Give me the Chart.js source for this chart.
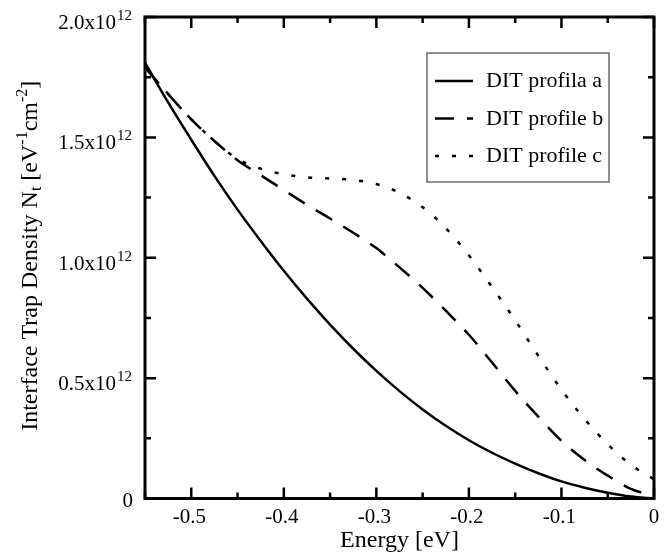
<!DOCTYPE html>
<html>
<head>
<meta charset="utf-8">
<script src="https://cdn.jsdelivr.net/npm/chart.js@4/dist/chart.umd.min.js"></script>
<style>
html,body{margin:0;padding:0;background:#fff;}
#wrap{width:672px;height:558px;position:relative;}
</style>
</head>
<body>
<div id="wrap"><canvas id="c" width="672" height="558"></canvas></div>
<script>
// Energy (eV)
const energy = [-0.55,-0.525,-0.5,-0.475,-0.45,-0.425,-0.4,-0.375,-0.35,-0.325,-0.3,-0.275,-0.25,-0.225,-0.2,-0.175,-0.15,-0.125,-0.1,-0.075,-0.05,-0.025,0];
// Interface trap density in units of 1e12 eV^-1 cm^-2
const profileA = [1.81,1.645,1.49,1.34,1.2,1.07,0.946,0.83,0.722,0.622,0.53,0.446,0.37,0.302,0.242,0.19,0.145,0.105,0.071,0.045,0.024,0.008,0.0];
const profileB = [1.79,1.68,1.575,1.485,1.405,1.343,1.281,1.22,1.163,1.104,1.04,0.96,0.875,0.78,0.68,0.565,0.447,0.34,0.24,0.16,0.095,0.04,0.01];
const profileC = [1.79,1.68,1.575,1.485,1.41,1.37,1.347,1.334,1.329,1.323,1.306,1.27,1.21,1.123,1.01,0.878,0.74,0.593,0.452,0.33,0.225,0.14,0.08];
const seriesLabels = ['DIT profila a','DIT profile b','DIT profile c'];
const xTickValues = [-0.5,-0.4,-0.3,-0.2,-0.1,0];
const xTickLabels = ['-0.5','-0.4','-0.3','-0.2','-0.1','0'];
const yTickValues = [0,0.5,1.0,1.5,2.0];
const yTickLabels = [['0',''],['0.5x10','12'],['1.0x10','12'],['1.5x10','12'],['2.0x10','12']];

const FONT = '"Liberation Serif","Times New Roman",serif';
const toXY = arr => energy.map((e,i)=>({x:e,y:arr[i]}));
const dashes = [[],[19,13],[4,13]];

const framePlugin = {
  id:'frame',
  afterDraw(chart){
    const ctx = chart.ctx, a = chart.chartArea;
    const xs = chart.scales.x, ys = chart.scales.y;
    ctx.save();
    ctx.strokeStyle = '#000';
    // ticks (inward, mirrored)
    ctx.lineWidth = 2.5;
    for(let k=0;k<=11;k++){
      const v = -0.55 + k*0.05;
      const px = xs.getPixelForValue(v);
      const L = (k%2===1)?11:6;
      ctx.beginPath();
      ctx.moveTo(px,a.bottom); ctx.lineTo(px,a.bottom-L);
      ctx.moveTo(px,a.top); ctx.lineTo(px,a.top+L);
      ctx.stroke();
    }
    for(let k=0;k<=8;k++){
      const py = ys.getPixelForValue(k*0.25);
      const L = (k%2===0)?11:6;
      ctx.beginPath();
      ctx.moveTo(a.left,py); ctx.lineTo(a.left+L,py);
      ctx.moveTo(a.right,py); ctx.lineTo(a.right-L,py);
      ctx.stroke();
    }
    ctx.lineWidth = 3;
    ctx.strokeRect(a.left,a.top,a.right-a.left,a.bottom-a.top);

    ctx.fillStyle = '#000';
    // x tick labels
    ctx.font = '21px '+FONT;
    ctx.textAlign = 'center'; ctx.textBaseline = 'alphabetic';
    xTickValues.forEach((v,i)=>{
      let px = xs.getPixelForValue(v);
      const t = xTickLabels[i];
      if(t.startsWith('-')) px -= 2;
      ctx.fillText(t, px, a.bottom+24);
    });
    // y tick labels
    yTickValues.forEach((v,i)=>{
      const py = ys.getPixelForValue(v);
      const [m,s] = yTickLabels[i];
      ctx.textBaseline='alphabetic'; ctx.textAlign='right';
      if(s){
        ctx.font = '15px '+FONT;
        const sw = ctx.measureText(s).width;
        ctx.fillText(s, a.left-13, py+3);
        ctx.font = '21px '+FONT;
        ctx.fillText(m, a.left-14-sw, py+12);
      } else {
        ctx.font = '21px '+FONT;
        ctx.fillText(m, a.left-12, py+8);
      }
    });
    // x title
    ctx.font = '24px '+FONT;
    ctx.textAlign='center'; ctx.textBaseline='alphabetic';
    ctx.fillText('Energy [eV]', (a.left+a.right)/2, 547);
    // y title (rotated, with sub/superscripts)
    const parts = [
      {t:'Interface Trap Density N', f:24, dy:0},
      {t:'t', f:16, dy:4},
      {t:' [eV', f:24, dy:0},
      {t:'-1', f:16, dy:-10},
      {t:'cm', f:24, dy:0},
      {t:'-2', f:16, dy:-10},
      {t:']', f:24, dy:0}
    ];
    let total = 0;
    parts.forEach(p=>{ctx.font=p.f+'px '+FONT; p.w=ctx.measureText(p.t).width; total+=p.w;});
    ctx.translate(37,(a.top+a.bottom)/2 - 2);
    ctx.rotate(-Math.PI/2);
    ctx.textAlign='left'; ctx.textBaseline='alphabetic';
    let cx = -total/2;
    parts.forEach(p=>{ctx.font=p.f+'px '+FONT; ctx.fillText(p.t,cx,p.dy); cx+=p.w;});
    ctx.restore();

    // legend
    ctx.save();
    const bx=427, by=53, bw=182, bh=129;
    ctx.strokeStyle='#444'; ctx.lineWidth=1.2;
    ctx.strokeRect(bx,by,bw,bh);
    chart.data.datasets.forEach((ds,i)=>{
      const base = 87 + i*37.5;
      ctx.strokeStyle='#000'; ctx.lineWidth=2.5;
      ctx.setLineDash(ds.borderDash||[]);
      ctx.beginPath(); ctx.moveTo(435,base-6); ctx.lineTo(473,base-6); ctx.stroke();
      ctx.setLineDash([]);
      ctx.fillStyle='#000';
      ctx.font='22px '+FONT; ctx.textAlign='left'; ctx.textBaseline='alphabetic';
      ctx.fillText(ds.label, 486, base);
    });
    ctx.restore();
  }
};

new Chart(document.getElementById('c'),{
  type:'line',
  data:{
    datasets:[profileA,profileB,profileC].map((arr,i)=>({
      label:seriesLabels[i],
      data:toXY(arr),
      borderColor:'#000',
      borderWidth:2.5,
      borderDash:dashes[i],
      pointRadius:0,
      fill:false,
      cubicInterpolationMode:'monotone'
    }))
  },
  options:{
    responsive:false,
    animation:false,
    layout:{padding:{left:145,right:18,top:17,bottom:59.5}},
    plugins:{legend:{display:false},tooltip:{enabled:false}},
    scales:{
      x:{type:'linear',min:-0.55,max:0,
         afterFit(s){s.height=0;},
         ticks:{display:false},grid:{display:false},border:{display:false}},
      y:{type:'linear',min:0,max:2.0,
         afterFit(s){s.width=0;},
         ticks:{display:false},grid:{display:false},border:{display:false}}
    }
  },
  plugins:[framePlugin]
});
</script>
</body>
</html>
